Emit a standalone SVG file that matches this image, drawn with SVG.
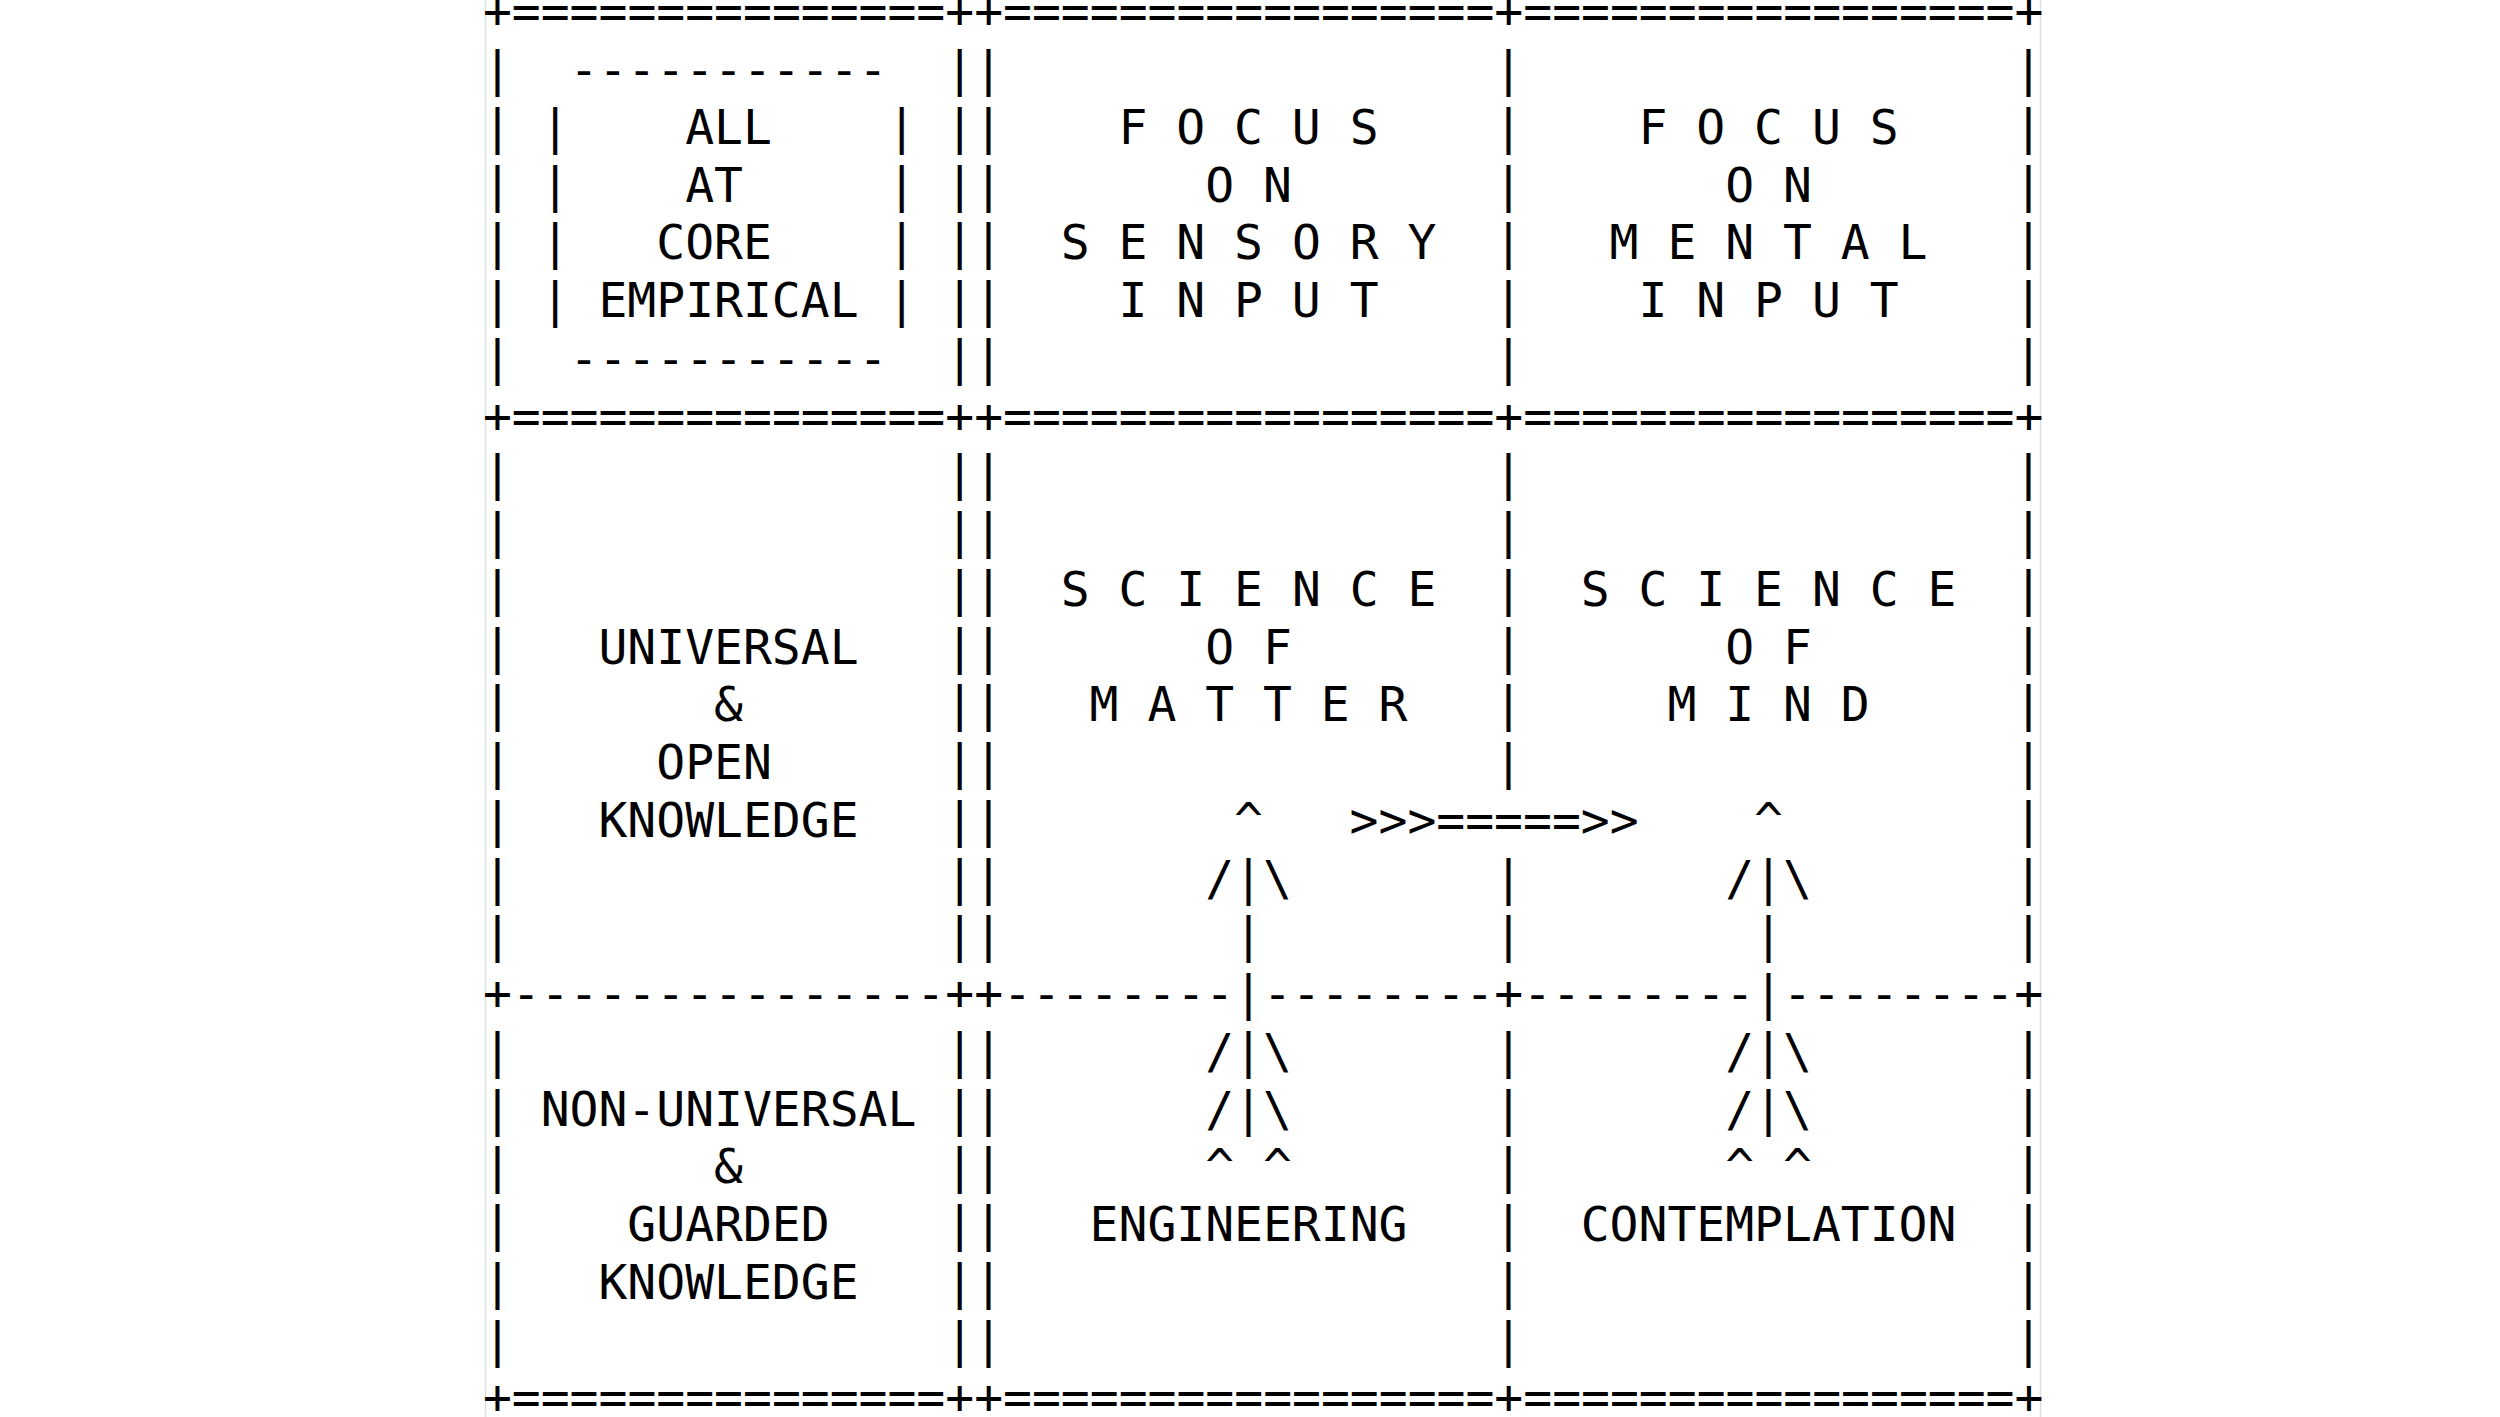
<svg xmlns="http://www.w3.org/2000/svg" width="2500" height="1417" viewBox="0 0 2500 1417">
<style>
  text { font-family: "DejaVu Sans Mono", "Liberation Mono", monospace; font-size: 48px; fill: #000; white-space: pre; }
  .edge { stroke: #dedede; stroke-width: 1.5; }
</style>
<rect width="2500" height="1417" fill="#fff"/>
<g id="page-edges">
  <line class="edge" x1="485.5" y1="0" x2="485.5" y2="1417"/>
  <line class="edge" x1="2040.5" y1="0" x2="2040.5" y2="1417"/>
</g>
<g id="grid-frame">
  <text x="482.9" y="28.3">+===============++=================+=================+</text>
  <text x="482.9" y="432.55">+===============++=================+=================+</text>
  <text x="482.9" y="1414.3">+===============++=================+=================+</text>
  <text x="482.9" y="1010.05">+---------------++--------</text>
  <text x="1263" y="1010.05">--------+--------</text>
  <text x="1783" y="1010.05">--------+</text>
  <text x="482.9 945.14 974.03 1494.05 2014.07" y="86.05">|||||</text>
  <text x="482.9 945.14 974.03 1494.05 2014.07" y="143.8">|||||</text>
  <text x="482.9 945.14 974.03 1494.05 2014.07" y="201.55">|||||</text>
  <text x="482.9 945.14 974.03 1494.05 2014.07" y="259.3">|||||</text>
  <text x="482.9 945.14 974.03 1494.05 2014.07" y="317.05">|||||</text>
  <text x="482.9 945.14 974.03 1494.05 2014.07" y="374.8">|||||</text>
  <text x="482.9 945.14 974.03 1494.05 2014.07" y="490.3">|||||</text>
  <text x="482.9 945.14 974.03 1494.05 2014.07" y="548.05">|||||</text>
  <text x="482.9 945.14 974.03 1494.05 2014.07" y="605.8">|||||</text>
  <text x="482.9 945.14 974.03 1494.05 2014.07" y="663.55">|||||</text>
  <text x="482.9 945.14 974.03 1494.05 2014.07" y="721.3">|||||</text>
  <text x="482.9 945.14 974.03 1494.05 2014.07" y="779.05">|||||</text>
  <text x="482.9 945.14 974.03 2014.07" y="836.8">||||</text>
  <text x="482.9 945.14 974.03 1494.05 2014.07" y="894.55">|||||</text>
  <text x="482.9 945.14 974.03 1494.05 2014.07" y="952.3">|||||</text>
  <text x="482.9 945.14 974.03 1494.05 2014.07" y="1067.8">|||||</text>
  <text x="482.9 945.14 974.03 1494.05 2014.07" y="1125.55">|||||</text>
  <text x="482.9 945.14 974.03 1494.05 2014.07" y="1183.3">|||||</text>
  <text x="482.9 945.14 974.03 1494.05 2014.07" y="1241.05">|||||</text>
  <text x="482.9 945.14 974.03 1494.05 2014.07" y="1298.8">|||||</text>
  <text x="482.9 945.14 974.03 1494.05 2014.07" y="1356.55">|||||</text>
</g>
<g id="node-all-at-core-empirical">
  <text x="569.57" y="86.05">-----------</text>
  <text x="540.68 887.36" y="143.8">||</text>
  <text x="540.68 887.36" y="201.55">||</text>
  <text x="540.68 887.36" y="259.3">||</text>
  <text x="540.68 887.36" y="317.05">||</text>
  <text x="569.57" y="374.8">-----------</text>
  <text x="685.13" y="143.8">ALL</text>
  <text x="685.13" y="201.55">AT</text>
  <text x="656.24" y="259.3">CORE</text>
  <text x="598.46" y="317.05">EMPIRICAL</text>
</g>
<g id="node-focus-sensory">
  <text x="1118.48" y="143.8">F O C U S</text>
  <text x="1205.15" y="201.55">O N</text>
  <text x="1060.7" y="259.3">S E N S O R Y</text>
  <text x="1118.48" y="317.05">I N P U T</text>
</g>
<g id="node-focus-mental">
  <text x="1638.5" y="143.8">F O C U S</text>
  <text x="1725.17" y="201.55">O N</text>
  <text x="1609.61" y="259.3">M E N T A L</text>
  <text x="1638.5" y="317.05">I N P U T</text>
</g>
<g id="node-universal-open-knowledge">
  <text x="598.46" y="663.55">UNIVERSAL</text>
  <text x="714.02" y="721.3">&amp;</text>
  <text x="656.24" y="779.05">OPEN</text>
  <text x="598.46" y="836.8">KNOWLEDGE</text>
</g>
<g id="node-science-of-matter">
  <text x="1060.7" y="605.8">S C I E N C E</text>
  <text x="1205.15" y="663.55">O F</text>
  <text x="1089.59" y="721.3">M A T T E R</text>
</g>
<g id="node-science-of-mind">
  <text x="1580.72" y="605.8">S C I E N C E</text>
  <text x="1725.17" y="663.55">O F</text>
  <text x="1667.39" y="721.3">M I N D</text>
</g>
<g id="node-non-universal-guarded-knowledge">
  <text x="540.68" y="1125.55">NON-UNIVERSAL</text>
  <text x="714.02" y="1183.3">&amp;</text>
  <text x="627.35" y="1241.05">GUARDED</text>
  <text x="598.46" y="1298.8">KNOWLEDGE</text>
</g>
<g id="node-engineering">
  <text x="1089.59" y="1241.05">ENGINEERING</text>
</g>
<g id="node-contemplation">
  <text x="1580.72" y="1241.05">CONTEMPLATION</text>
</g>
<g id="connectors">
  <text x="1349.6" y="836.8">&gt;&gt;&gt;=====&gt;&gt;</text>
  <text x="1234.04" y="836.8">^</text>
  <text x="1205.15" y="894.55">/|\</text>
  <text x="1234.04" y="952.3">|</text>
  <text x="1234.04" y="1010.05">|</text>
  <text x="1205.15" y="1067.8">/|\</text>
  <text x="1205.15" y="1125.55">/|\</text>
  <text x="1205.15" y="1183.3">^ ^</text>
  <text x="1754.06" y="836.8">^</text>
  <text x="1725.17" y="894.55">/|\</text>
  <text x="1754.06" y="952.3">|</text>
  <text x="1754.06" y="1010.05">|</text>
  <text x="1725.17" y="1067.8">/|\</text>
  <text x="1725.17" y="1125.55">/|\</text>
  <text x="1725.17" y="1183.3">^ ^</text>
</g>
</svg>
